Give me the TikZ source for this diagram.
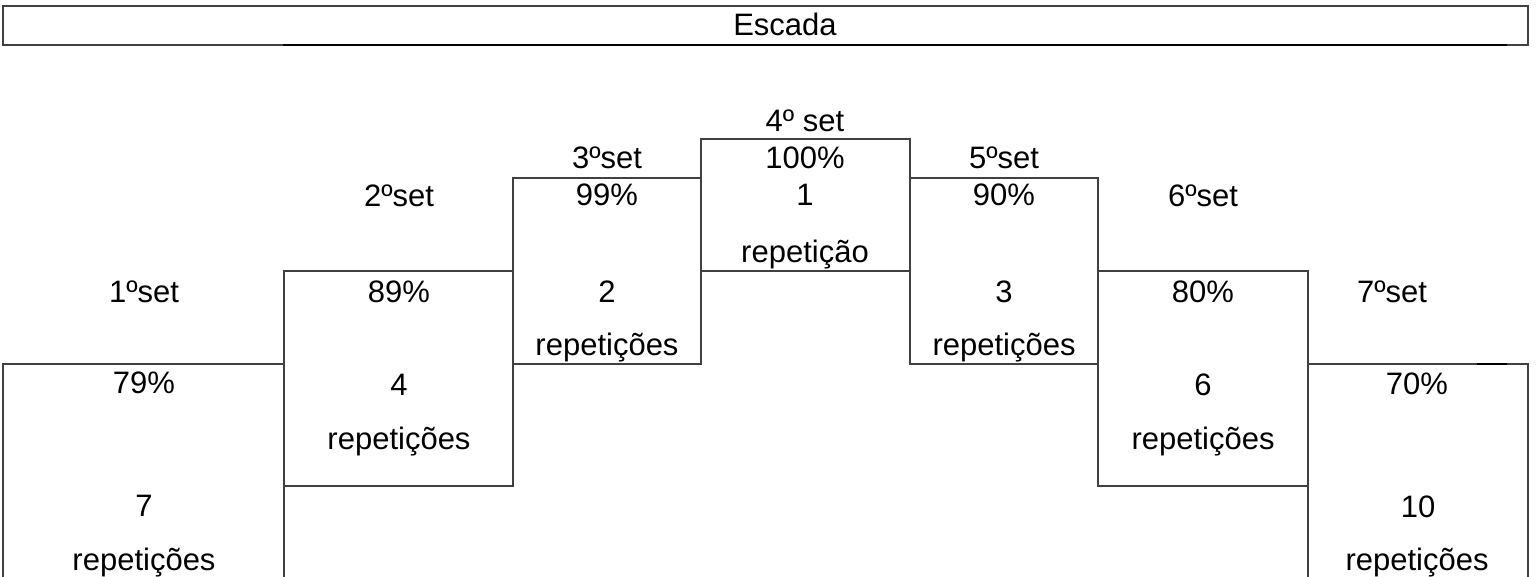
\documentclass[tikz,border=0pt]{standalone}
\usepackage{fontspec}
\setmainfont{Liberation Sans}
\tikzset{
  stair/.style={draw=black!75, line width=1.3pt},
  lbl/.style={anchor=base, font=\fontsize{31}{31}\selectfont, inner sep=0pt}
}
\begin{document}
\begin{tikzpicture}[x=1pt,y=-1pt]
\useasboundingbox (0,0) rectangle (1538,577);

% title bar
\draw[stair] (3,6) rectangle (1528,45);
\draw[line width=2pt] (283,45) -- (1507,45);
\node[lbl] (titulo) at (785,36) {Escada};

% steps
\draw[stair] (3,577) -- (3,364) -- (284,364) -- (284,577);
\draw[stair] (284,271) rectangle (513,486);
\draw[stair] (513,178) rectangle (701,364);
\draw[stair] (701,139) rectangle (910,271);
\draw[stair] (910,178) rectangle (1098,364);
\draw[stair] (1098,271) rectangle (1308,486);
\draw[stair] (1308,577) -- (1308,364) -- (1528,364) -- (1528,577);
\draw[line width=2pt] (1477,364) -- (1507,364);

% set 1
\node[lbl] (set1)  at (144,302) {1ºset};
\node[lbl] (pct1)  at (144,393) {79\%};
\node[lbl] (num1)  at (144,516) {7};
\node[lbl] (rep1)  at (144,570) {repetições};

% set 2
\node[lbl] (set2)  at (399,207) {2ºset};
\node[lbl] (pct2)  at (399,302) {89\%};
\node[lbl] (num2)  at (399,395) {4};
\node[lbl] (rep2)  at (399,449) {repetições};

% set 3
\node[lbl] (set3)  at (607,169) {3ºset};
\node[lbl] (pct3)  at (607,206) {99\%};
\node[lbl] (num3)  at (607,302) {2};
\node[lbl] (rep3)  at (607,355) {repetições};

% set 4
\node[lbl] (set4)  at (805,132) {4º set};
\node[lbl] (pct4)  at (805,169) {100\%};
\node[lbl] (num4)  at (805,206) {1};
\node[lbl] (rep4)  at (805,262) {repetição};

% set 5
\node[lbl] (set5)  at (1004,169) {5ºset};
\node[lbl] (pct5)  at (1004,206) {90\%};
\node[lbl] (num5)  at (1004,302) {3};
\node[lbl] (rep5)  at (1004,355) {repetições};

% set 6
\node[lbl] (set6)  at (1203,207) {6ºset};
\node[lbl] (pct6)  at (1203,302) {80\%};
\node[lbl] (num6)  at (1203,395) {6};
\node[lbl] (rep6)  at (1203,449) {repetições};

% set 7
\node[lbl] (set7)  at (1392,302) {7ºset};
\node[lbl] (pct7)  at (1417,394) {70\%};
\node[lbl] (num7)  at (1418,517) {10};
\node[lbl] (rep7)  at (1417,570) {repetições};
\end{tikzpicture}
\end{document}
